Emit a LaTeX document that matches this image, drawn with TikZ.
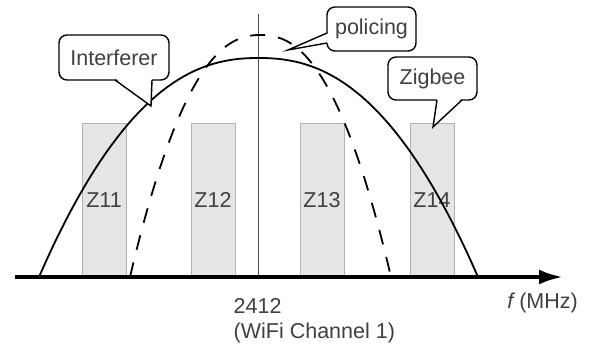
\documentclass[tikz,border=0pt]{standalone}
\usepackage{fontspec}
\setmainfont{Liberation Sans}
\usetikzlibrary{arrows.meta}

\begin{document}
\begin{tikzpicture}[x=1pt, y=-1pt,
	txt/.style = {text=black!75, font=\fontsize{21.5}{25}\selectfont, inner sep=0pt},
	zone/.style = {txt, draw=black!30, fill=black!10, minimum width=44pt, minimum height=154pt},
	bubble/.style = {txt, draw, line width=1.4pt, fill=white, rounded corners=8pt, outer sep=0pt},
	wave/.style = {line width=1.8pt}]
	\useasboundingbox (0,0) rectangle (591,350);
	\node[zone] (z11) at (104,200) {Z11};
	\node[zone] (z12) at (213,200) {Z12};
	\node[zone] (z13) at (322,200) {Z13};
	\node[zone] (z14) at (432,200) {Z14};
	\coordinate (top) at (258,14);
	\coordinate (mid) at (258,277);
	\draw[black!70, line width=1pt] (top) -- (mid);
	\draw[wave] plot[domain=-1:1, samples=80] ({258.5+219.5*\x},{277-219*(1-abs(\x)^2.3)});
	\draw[wave, dash pattern=on 15pt off 13pt] plot[domain=-1:1, samples=80] ({260.5+130.5*\x},{277-242*(1-abs(\x)^2.3)});
	\coordinate (o) at (15,277);
	\coordinate (end) at (563,277);
	\draw[line width=4pt, -{Latex[length=24pt, width=15pt]}] (o) -- (end);
	\node[txt, anchor=east] (f) at (578,303) {\itshape f\upshape{} (MHz)};
	\node[txt, align=left, anchor=west] (ch) at (233.5,320.5) {2412\\(WiFi Channel 1)};
	% callouts
	\node[bubble, minimum width=110pt, minimum height=45pt] (intf) at (114,57.5) {Interferer};
	\coordinate (itip) at (151,106);
	\fill[white] ([xshift=56pt, yshift=2pt]intf.south west) -- (itip) -- ([xshift=93pt, yshift=2pt]intf.south west) -- cycle;
	\draw[line width=1.4pt] ([xshift=56pt]intf.south west) -- (itip) -- ([xshift=93pt]intf.south west);
	\node[bubble, minimum width=89pt, minimum height=44pt] (pol) at (371.5,29) {policing};
	\coordinate (ptip) at (288,50);
	\fill[white] ([xshift=2pt, yshift=-26pt]pol.north west) -- (ptip) -- ([xshift=2pt, yshift=-36pt]pol.north west) -- cycle;
	\draw[line width=1.4pt] ([yshift=-26pt]pol.north west) -- (ptip) -- ([yshift=-36pt]pol.north west);
	\node[bubble, minimum width=89pt, minimum height=43pt] (zig) at (432.5,78.5) {Zigbee};
	\coordinate (ztip) at (433,127);
	\fill[white] ([xshift=49pt, yshift=2pt]zig.south west) -- (ztip) -- ([xshift=74pt, yshift=2pt]zig.south west) -- cycle;
	\draw[line width=1.4pt] ([xshift=49pt]zig.south west) -- (ztip) -- ([xshift=74pt]zig.south west);
\end{tikzpicture}
\end{document}
